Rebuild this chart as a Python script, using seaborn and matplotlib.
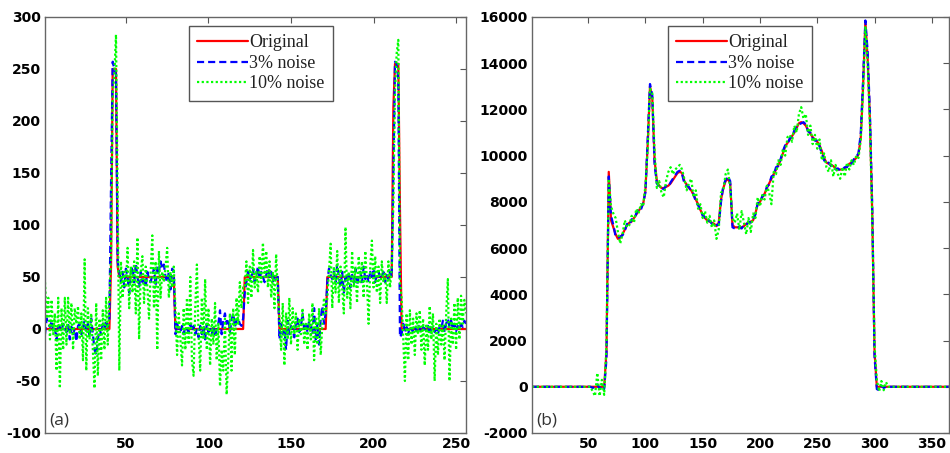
import numpy as np
import pandas as pd
import matplotlib
matplotlib.use("Agg")
import matplotlib.pyplot as plt
from matplotlib.font_manager import FontProperties
import seaborn as sns

# ---------------- data (a) : samples 1..256 ----------------
x_a = list(range(1, 257))

orig_a = ([0] * 40 + [60, 250, 250, 250, 60] + [50] * 34 + [0] * 42 + [50] * 21
          + [0] * 29 + [50] * 40 + [213, 255, 255, 255, 115] + [0] * 40)

noise3_a = [
    -5, 10, 5, 2, 8, -3, 0, -10, 3, 2, -2, 5, 0, -3, 4, -10, 2, -5, 0, -12,
    3, 5, -5, 2, 8, -3, 5, -8, 10, -5, -20, -25, -10, 0, -5, 5, 0, 8, 2, 10,
    140, 257, 250, 245, 65,
    55, 45, 55, 40, 58, 50, 35, 55, 60, 45, 63, 50, 40, 55, 45, 50, 40, 55, 48, 45,
    52, 58, 42, 60, 55, 65, 58, 62, 50, 45, 55, 38, 58, 55,
    -5, 5, 0, -3, 3, -5, 2, 0, -3, 5, -2, 3, -5, 0, -8, 3, -5, 2, -10, 5,
    -3, 0, -5, 3, -8, 0, 5, 18, -5, 8, 15, 5, 10, -3, 8, 15, 2, 8, 10, 5, 3, 10,
    35, 45, 55, 48, 50, 58, 45, 52, 60, 48, 55, 50, 45, 52, 58, 50, 55, 45, 52, 48, 50,
    -10, 5, -5, 0, -20, 8, -5, 3, 0, -8, 5, 10, -3, 2, 15, 0, 5, -3, 8, 2,
    -5, 20, -10, 5, -15, 10, 22, 5, 15,
    45, 58, 52, 48, 55, 45, 62, 50, 40, 55, 35, 50, 45, 55, 40, 52, 45, 58, 42, 50,
    55, 45, 60, 48, 52, 45, 55, 50, 58, 45, 52, 55, 48, 50, 55, 45, 52, 48, 55, 50,
    150, 257, 255, 240, -8,
    -5, 5, -3, 2, -5, 3, 0, -3, 2, -2, 4, 0, -3, 2, 0, -2, 3, -5, 0, 2,
    -3, 0, -5, 2, 0, 8, -3, 5, 10, 3, 8, 0, 5, -2, 3, 0, 5, 2, 8, 5,
]

noise10_a = [
    45, 10, 30, -10, 28, -5, 15, -40, 30, -57, 20, -20, 30, -15, 30, -5, 25, -20, 20, 5,
    22, -10, 15, -30, 67, -40, 20, -10, 15, -20, -57, 25, -45, 10, -30, 18, -20, 30, -15, 30,
    70, 225, 245, 283, 130,
    -40, 65, 30, 55, 40, 78, 20, 60, 35, 65, 15, 88, -10, 55, 70, 25, 60, 40, 10, 55,
    90, 20, 65, -20, 75, 30, 55, 45, 60, 78, 30, 55, 40, 60,
    20, -25, 15, -10, -35, 20, -20, 30, -15, 50, -30, -45, 20, 62, -5, -40, 30, -10, 48, -20,
    20, -35, 10, -15, 25, -30, 5, -55, -20, -40, 10, -63, -30, 15, -40, 20, -25, 30, 5, 45, 20, 40,
    40, 65, 25, 60, 30, 76, 40, 55, 35, 70, 45, 83, 50, 75, 40, 65, 30, 55, 20, 72, 35,
    10, -20, 25, -35, 15, -10, 30, -15, 20, -5, 15, -20, 10, -5, 20, -15, 5, -20, 15, -10,
    25, -30, 10, -15, 20, -25, 5, 30, 15,
    30, 55, 82, 20, 60, 35, 75, 25, 60, 40, 15, 98, 30, 55, 20, 75, 40, 60, 25, 70,
    45, 65, 30, 75, 45, 5, 60, 85, 40, 70, 35, 60, 25, 65, 45, 55, 25, 65, 40, 58,
    120, 230, 265, 278, 45,
    30, -10, -50, 15, -30, 18, -15, 10, -25, 15, -5, 18, -20, 10, -35, 5, -20, 22, -10, 15,
    -50, 5, -25, 10, -15, 5, -30, 15, 48, -50, 10, -15, 25, -20, 30, -10, 32, 5, 28, 15,
]

# ---------------- data (b) ----------------
x_b = [1, 30, 50] + list(range(52, 313, 2)) + [314, 330, 365]

orig_b = [0, 0, 0,
    0, 0, 0, 0, 0, 0, 0, 1500, 9300, 7200, 6900, 6600, 6400, 6450, 6600, 6800, 7000, 7100,
    7150, 7300, 7450, 7600, 7750, 7900, 8500, 10500, 13000, 12500, 9800, 8900, 8700, 8600, 8600, 8650,
    8700, 8800, 8950, 9100, 9250, 9300, 9250, 8900, 8750, 8600, 8500, 8300, 8100, 7900, 7650, 7450,
    7300, 7200, 7150, 7100, 7050, 6950, 7100, 8100, 8600, 8900, 9000, 8800, 7000, 6900, 6900, 6880,
    6900, 6950, 7050, 7100, 7150, 7200, 7500, 7900, 8000, 8200, 8350, 8600, 8800, 9000, 9200, 9400,
    9600, 9800, 10100, 10400, 10550, 10700, 10850, 11000, 11200, 11400, 11450, 11400, 11300, 11100, 10950, 10800,
    10700, 10600, 10450, 10200, 9900, 9700, 9650, 9600, 9550, 9450, 9400, 9400, 9400, 9450, 9550, 9650,
    9700, 9800, 9900, 10050, 10800, 13000, 15800, 14200, 11500, 7500, 1500, 0, 0, 0, 0, 0, 0,
    0, 0, 0]

noise3_b = [0, 0, 0,
    0, -50, 0, 100, -80, 50, -100, 1200, 9100, 7400, 7000, 6500, 6450, 6500, 6550, 6750, 7050, 7000,
    7250, 7200, 7500, 7700, 7650, 7950, 8400, 10800, 13100, 12600, 9600, 8800, 8650, 8600, 8550, 8700,
    8650, 8850, 9000, 9150, 9300, 9350, 9200, 8800, 8700, 8650, 8450, 8350, 8000, 7850, 7700, 7400,
    7350, 7150, 7200, 7050, 7100, 7000, 7000, 8000, 8700, 8950, 9100, 8900, 6900, 6850, 6950, 6900,
    6850, 7000, 7000, 7150, 7100, 7250, 7450, 7950, 7950, 8250, 8300, 8650, 8750, 9100, 9150, 9500,
    9550, 9850, 10200, 10450, 10500, 10750, 10800, 11100, 11250, 11350, 11400, 11450, 11350, 11050, 11000, 10750,
    10650, 10650, 10400, 10100, 9800, 9650, 9700, 9550, 9600, 9400, 9450, 9350, 9400, 9500, 9500, 9700,
    9650, 9850, 9950, 10100, 11000, 13300, 15850, 14500, 11800, 7800, 1300, -100, -150, 50, -50, 0, 0,
    0, 0, 0]

noise10_b = [0, 0, 0,
    0, -200, -400, 600, -400, 300, -350, 1800, 9000, 7800, 7500, 7300, 6700, 6200, 6600, 7200, 6900, 7000,
    7400, 7100, 7700, 7500, 7900, 7800, 8700, 10300, 12900, 12700, 10200, 8600, 8900, 8400, 8200, 8900,
    9300, 9500, 9200, 9400, 9500, 9600, 9400, 9000, 8500, 8800, 9000, 8200, 8500, 7700, 7900, 7300,
    7600, 7100, 7400, 6900, 7200, 6400, 6800, 8400, 8500, 9200, 9400, 8600, 7300, 7100, 7500, 6800,
    7600, 7100, 6600, 7300, 6700, 7500, 7300, 8200, 7800, 8300, 8100, 8700, 8400, 7900, 9300, 9200,
    9800, 9600, 10300, 10000, 10800, 10900, 10600, 11300, 11000, 11800, 12100, 11600, 11800, 10900, 11300, 10500,
    10900, 10300, 10700, 9800, 10100, 9500, 9300, 9800, 9100, 9600, 9200, 9000, 9500, 9100, 9700, 9400,
    9800, 9600, 10000, 9900, 10700, 12800, 15600, 14000, 11300, 7300, 1800, 300, -200, 250, -150, 200, 0,
    0, 0, 0]

labels = ["Original", "3% noise", "10% noise"]
panel_tags = ["(a)", "(b)"]

# ---------------- style ----------------
sns.set_style("white")
plt.rcParams["font.family"] = ["DejaVu Sans"]
plt.rcParams["axes.unicode_minus"] = False

tick_font = FontProperties(family="DejaVu Sans", weight="bold", size=10)

fig = plt.figure(figsize=(9.5, 4.53), dpi=100)
ax1 = fig.add_axes([45 / 950, 20 / 453, 421 / 950, 416 / 453])
ax2 = fig.add_axes([532 / 950, 20 / 453, 417 / 950, 416 / 453])

styles = [dict(color=(1, 0, 0), linestyle="-"),
          dict(color=(0, 0, 1), linestyle=(0, (3.2, 1.8))),
          dict(color=(0, 1, 0), linestyle=(0, (1.0, 1.1)))]


def draw(ax, x, series, xlim, ylim, yticks, xticks, tag, leg_x):
    for y, lab, st in zip(series, labels, styles):
        df = pd.DataFrame({"x": x, "y": y})
        sns.lineplot(data=df, x="x", y="y", ax=ax, label=lab, lw=1.6,
                     estimator=None, sort=False, **st)
    ax.set_xlim(*xlim)
    ax.set_ylim(*ylim)
    ax.set_xticks(xticks)
    ax.set_xticklabels([str(t) for t in xticks], fontproperties=tick_font)
    ax.set_yticks(yticks)
    ax.set_yticklabels([str(t) for t in yticks], fontproperties=tick_font)
    ax.set_xlabel("")
    ax.set_ylabel("")
    ax.tick_params(direction="in", length=4, width=0.8, top=True, right=True,
                   colors="#555555", labelcolor="black", pad=3)
    for s in ax.spines.values():
        s.set_color("#666666")
        s.set_linewidth(1.0)
    ax.text(0.01, 0.012, tag, transform=ax.transAxes, fontsize=12.5, fontweight="normal",
            family=["Open Sans", "DejaVu Sans"], color="#333333", va="bottom", ha="left")
    leg = ax.legend(loc="upper left", bbox_to_anchor=(leg_x, 0.978), borderaxespad=0,
                    frameon=True, fancybox=False, framealpha=1, edgecolor="#555555",
                    prop={"family": ["Liberation Serif", "DejaVu Serif"], "size": 13,
                          "weight": "normal"},
                    handlelength=2.8, handletextpad=0.1, labelspacing=0.2,
                    borderpad=0.45)
    leg.get_frame().set_linewidth(1.0)
    for t in leg.get_texts():
        t.set_color("#222222")


draw(ax1, x_a, [orig_a, noise3_a, noise10_a], (1, 256), (-100, 300),
     list(range(-100, 301, 50)), [50, 100, 150, 200, 250], panel_tags[0], 0.342)
draw(ax2, x_b, [orig_b, noise3_b, noise10_b], (1, 365), (-2000, 16000),
     list(range(-2000, 16001, 2000)), [50, 100, 150, 200, 250, 300, 350], panel_tags[1], 0.326)

fig.savefig("out.png", dpi=100)
